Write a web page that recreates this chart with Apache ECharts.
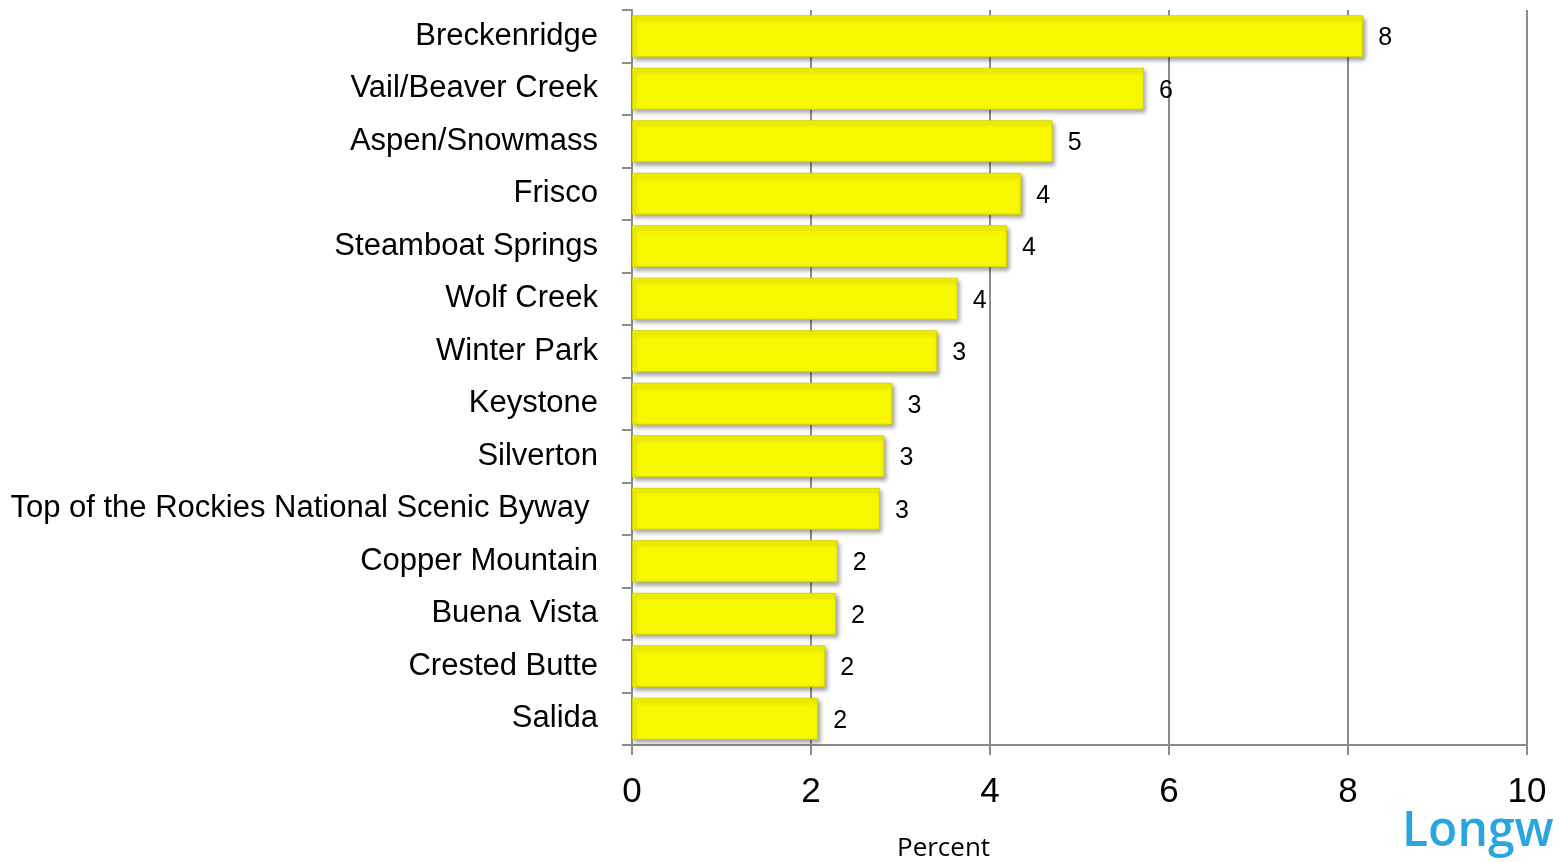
<!DOCTYPE html>
<html>
<head>
<meta charset="utf-8">
<script src="https://cdn.jsdelivr.net/npm/echarts@6/dist/echarts.min.js"></script>
<style>
html,body{margin:0;padding:0;background:#fff;}
#chart{width:1561px;height:862px;}
</style>
</head>
<body>
<div id="chart"></div>
<script>
const categories = [
  "Breckenridge",
  "Vail/Beaver Creek",
  "Aspen/Snowmass",
  "Frisco",
  "Steamboat Springs",
  "Wolf Creek",
  "Winter Park",
  "Keystone",
  "Silverton",
  "Top of the Rockies National Scenic Byway ",
  "Copper Mountain",
  "Buena Vista",
  "Crested Butte",
  "Salida"
];
const percentValues = [8.17, 5.72, 4.70, 4.35, 4.19, 3.64, 3.41, 2.91, 2.82, 2.77, 2.30, 2.28, 2.16, 2.08];
const valueLabels = ["8", "6", "5", "4", "4", "4", "3", "3", "3", "3", "2", "2", "2", "2"];
const xTicks = [0, 2, 4, 6, 8, 10];

const chart = echarts.init(document.getElementById('chart'), null, {renderer: 'canvas'});
const option = {
  animation: false,
  backgroundColor: '#ffffff',
  grid: {left: 632, right: 34, top: 10, bottom: 117, containLabel: false, outerBoundsMode: 'none'},
  xAxis: {
    type: 'value',
    min: xTicks[0],
    max: xTicks[xTicks.length - 1],
    interval: 2,
    axisLine: {show: true, lineStyle: {color: '#8c8c8c', width: 2}},
    axisTick: {show: true, length: 10, lineStyle: {color: '#8c8c8c', width: 2}},
    splitLine: {show: true, lineStyle: {color: '#8c8c8c', width: 2}},
    axisLabel: {color: '#000', fontSize: 35, fontFamily: 'Liberation Sans, Arial, sans-serif', margin: 30}
  },
  yAxis: {
    type: 'category',
    inverse: true,
    data: categories,
    axisLine: {show: true, lineStyle: {color: '#8c8c8c', width: 2}},
    axisTick: {show: true, length: 10, lineStyle: {color: '#8c8c8c', width: 2}},
    axisLabel: {color: '#000', fontSize: 31, fontFamily: '"Liberation Sans", Arial, sans-serif', margin: 34, padding: [4, 0, 0, 0]}
  },
  series: [{
    type: 'bar',
    data: percentValues,
    barCategoryGap: '20%',
    itemStyle: {
      color: '#f8f800',
      borderColor: '#d4d400',
      borderWidth: 1,
      shadowColor: 'rgba(0,0,0,0.35)',
      shadowBlur: 4,
      shadowOffsetX: 2,
      shadowOffsetY: 3
    },
    label: {
      show: true,
      position: 'right',
      distance: 15,
      offset: [0, 2],
      color: '#000',
      fontSize: 25,
      fontFamily: 'Liberation Sans, Arial, sans-serif',
      formatter: p => valueLabels[p.dataIndex]
    }
  }],
  graphic: [
    {type: 'text', left: 897, top: 836, style: {text: 'Percent', fontSize: 26, fontFamily: '"Open Sans", "Liberation Sans", sans-serif', fill: '#000'}},
    {type: 'text', left: 1402, top: 808, style: {text: 'Longw', fontSize: 48, fontWeight: 600, fontFamily: '"Open Sans", "Liberation Sans", sans-serif', fill: '#2aa6df'}}
  ]
};
chart.setOption(option);
</script>
</body>
</html>
